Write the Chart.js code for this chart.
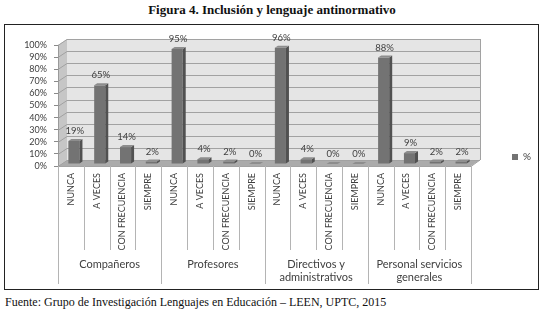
<!DOCTYPE html>
<html>
<head>
<meta charset="utf-8">
<script src="https://cdn.jsdelivr.net/npm/chart.js@4.4.0/dist/chart.umd.min.js"></script>
<style>
  body { margin: 0; width: 544px; height: 313px; background: #fff; position: relative; overflow: hidden; }
  #title { position: absolute; left: 0; top: 2px; width: 544px; text-align: center; font: bold 13px "Liberation Serif", serif; color: #111; }
  #box { position: absolute; left: 4px; top: 24px; width: 533px; height: 264px; border: 1px solid #222; }
  #box canvas { position: absolute; left: 0; top: 0; }
  #foot { position: absolute; left: 5px; top: 295px; font: 12px "Liberation Serif", serif; color: #111; }
</style>
</head>
<body>
<div id="title">Figura 4. Inclusión y lenguaje antinormativo</div>
<div id="box"><canvas id="fig4" width="533" height="264"></canvas></div>
<div id="foot">Fuente: Grupo de Investigación Lenguajes en Educación – LEEN, UPTC, 2015</div>
<script>
// categories (4 answers repeated for every group)
var categories = ['NUNCA', 'A VECES', 'CON FRECUENCIA', 'SIEMPRE',
                  'NUNCA', 'A VECES', 'CON FRECUENCIA', 'SIEMPRE',
                  'NUNCA', 'A VECES', 'CON FRECUENCIA', 'SIEMPRE',
                  'NUNCA', 'A VECES', 'CON FRECUENCIA', 'SIEMPRE'];
var groups = ['Compañeros', 'Profesores', ['Directivos y', 'administrativos'], ['Personal servicios', 'generales']];
var percent = [19, 65, 14, 2,  95, 4, 2, 0,  96, 4, 0, 0,  88, 9, 2, 2];
var yTicks = [0, 10, 20, 30, 40, 50, 60, 70, 80, 90, 100];

// depth of the fake 3d walls and of the bars
var DX = 9, DY = -6;
var BX = 3, BY = -2;
var SX = 3, SY = -2;
var txt = '#404040';

var threeD = {
    id: 'threeD',
    beforeDraw: function (chart) {
        var c = chart.ctx, a = chart.chartArea, y = chart.scales.y;
        var L = a.left, R = a.right, T = a.top, B = a.bottom;
        c.save();
        // back wall
        c.fillStyle = '#e5e5e5';
        c.fillRect(L + DX, T + DY, R - L, B - T);
        // left wall
        c.fillStyle = '#c6c6c6';
        c.beginPath();
        c.moveTo(L, T); c.lineTo(L + DX, T + DY); c.lineTo(L + DX, B + DY); c.lineTo(L, B);
        c.closePath(); c.fill();
        // floor
        c.fillStyle = '#ababab';
        c.beginPath();
        c.moveTo(L, B); c.lineTo(L + DX, B + DY); c.lineTo(R + DX, B + DY); c.lineTo(R, B);
        c.closePath(); c.fill();
        // grid lines
        c.strokeStyle = '#a2a2a2';
        c.lineWidth = 1;
        yTicks.forEach(function (v) {
            var py = Math.round(y.getPixelForValue(v)) + 0.5;
            c.beginPath();
            c.moveTo(L, py); c.lineTo(L + DX, py + DY); c.lineTo(R + DX, py + DY);
            c.stroke();
        });
        c.beginPath();
        c.moveTo(R + DX + 0.5, T + DY); c.lineTo(R + DX + 0.5, B + DY);
        c.moveTo(L, B + 0.5); c.lineTo(R, B + 0.5); c.lineTo(R + DX, B + DY);
        c.stroke();
        c.restore();
    },
    beforeDatasetsDraw: function (chart) {
        chart.ctx.save();
        chart.ctx.translate(BX, BY);
    },
    afterDatasetsDraw: function (chart) {
        var c = chart.ctx;
        var meta = chart.getDatasetMeta(0);
        meta.data.forEach(function (bar, i) {
            var p = bar.getProps(['x', 'y', 'base', 'width'], true);
            var l = p.x - p.width / 2, r = p.x + p.width / 2;
            // side face
            c.fillStyle = '#515151';
            c.beginPath();
            c.moveTo(r, p.y); c.lineTo(r + SX, p.y + SY); c.lineTo(r + SX, p.base + SY); c.lineTo(r, p.base);
            c.closePath(); c.fill();
            // top face
            c.fillStyle = '#8d8d8d';
            c.beginPath();
            c.moveTo(l, p.y); c.lineTo(l + SX, p.y + SY); c.lineTo(r + SX, p.y + SY); c.lineTo(r, p.y);
            c.closePath(); c.fill();
            // value label
            c.fillStyle = txt;
            c.font = '9.5px Lato';
            c.textAlign = 'center';
            c.textBaseline = 'middle';
            c.fillText(percent[i] + '%', p.x + 1, p.y - 10);
        });
        c.restore();
    },
    afterDraw: function (chart) {
        var c = chart.ctx, x = chart.scales.x, x2 = chart.scales.x2;
        c.save();
        c.strokeStyle = '#b4b4b4';
        c.lineWidth = 1;
        for (var i = 0; i <= categories.length; i++) {
            var px = Math.round(x.getPixelForValue(i - 0.5)) + 0.5;
            var end = (i % 4 === 0) ? x2.bottom - 5 : x.bottom;
            c.beginPath();
            c.moveTo(px, x.top); c.lineTo(px, end);
            c.stroke();
        }
        c.restore();
    }
};

new Chart(document.getElementById('fig4'), {
    type: 'bar',
    data: {
        labels: categories,
        datasets: [{
            label: '%',
            data: percent,
            xAxisID: 'x',
            yAxisID: 'y',
            backgroundColor: '#737373',
            barPercentage: 0.43,
            categoryPercentage: 1
        }]
    },
    options: {
        responsive: false,
        animation: false,
        layout: { padding: 0 },
        plugins: {
            legend: {
                position: 'right',
                maxWidth: 28,
                labels: { boxWidth: 6, boxHeight: 6, padding: 2, color: txt, font: { family: 'Lato', size: 10 } }
            },
            tooltip: { enabled: false }
        },
        scales: {
            x: {
                type: 'category', position: 'bottom', offset: true, weight: 0,
                grid: { display: false, drawTicks: false }, border: { display: false },
                ticks: { autoSkip: false, minRotation: 90, maxRotation: 90, padding: 7, color: txt, font: { family: 'Lato', size: 9 } },
                afterFit: function (s) { s.height = 84; }
            },
            x2: {
                axis: 'x', type: 'category', position: 'bottom', offset: true, weight: 1, labels: groups,
                grid: { display: false, drawTicks: false }, border: { display: false },
                ticks: { autoSkip: false, maxRotation: 0, padding: 8, color: txt, font: { family: 'Lato', size: 11 } },
                afterFit: function (s) { s.height = 39; }
            },
            xTop: {
                axis: 'x', type: 'category', position: 'top', labels: [''],
                grid: { display: false, drawTicks: false }, border: { display: false },
                ticks: { display: false },
                afterFit: function (s) { s.height = 20; }
            },
            y: {
                min: 0, max: 100,
                ticks: { stepSize: 10, autoSkip: false, padding: 7, color: txt, font: { family: 'Lato', size: 9 },
                         callback: function (v) { return v + '%'; } },
                grid: { drawOnChartArea: false, tickLength: 4, color: '#8a8a8a' },
                border: { color: '#9a9a9a' },
                afterFit: function (s) { s.width = 53; }
            },
            yR: {
                axis: 'y', type: 'linear', position: 'right',
                grid: { display: false, drawTicks: false }, border: { display: false },
                ticks: { display: false },
                afterFit: function (s) { s.width = 39; }
            }
        }
    },
    plugins: [threeD]
});
</script>
</body>
</html>
